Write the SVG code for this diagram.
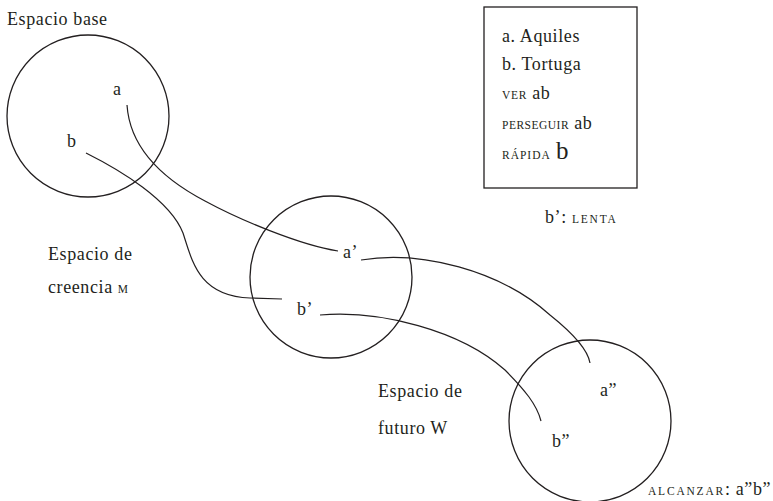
<svg xmlns="http://www.w3.org/2000/svg" width="773" height="501" viewBox="0 0 773 501">
<style>
  text { font-family: "Liberation Serif", "DejaVu Serif", serif; font-size: 18px; fill: #231f20; letter-spacing: 0.6px; }
  .sc { font-size: 11.5px; letter-spacing: 1px; }
  .space { fill: none; stroke: #231f20; stroke-width: 1.3; }
  .conn { fill: none; stroke: #231f20; stroke-width: 1.2; }
  .box { fill: #ffffff; stroke: #231f20; stroke-width: 1.3; }
</style>
<rect width="773" height="501" fill="#ffffff"/>

<g id="espacio-base">
  <circle class="space" cx="88" cy="116" r="81"/>
  <text x="7" y="25">Espacio base</text>
  <text x="113" y="95">a</text>
  <text x="67" y="147">b</text>
</g>

<g id="espacio-creencia">
  <circle class="space" cx="331" cy="277" r="81"/>
  <text x="48" y="260">Espacio de</text>
  <text x="48" y="293">creencia <tspan class="sc">M</tspan></text>
  <text x="343" y="258">a’</text>
  <text x="297" y="315">b’</text>
</g>

<g id="espacio-futuro">
  <circle class="space" cx="590" cy="421" r="81"/>
  <text x="378" y="397">Espacio de</text>
  <text x="378" y="434">futuro W</text>
  <text x="600" y="396">a”</text>
  <text x="552" y="447">b”</text>
  <text x="648" y="495"><tspan class="sc" style="letter-spacing:1.8px">ALCANZAR</tspan>: a”b”</text>
</g>

<g id="leyenda">
  <rect class="box" x="484" y="7" width="153" height="181"/>
  <text x="502" y="42">a. Aquiles</text>
  <text x="502" y="70">b. Tortuga</text>
  <text x="502" y="99"><tspan class="sc" style="letter-spacing:0.7px">VER</tspan> ab</text>
  <text x="502" y="129"><tspan class="sc" style="letter-spacing:0.5px">PERSEGUIR</tspan> ab</text>
  <text x="502" y="159"><tspan class="sc">RÁPIDA</tspan> <tspan style="font-size:25px">b</tspan></text>
</g>

<g id="nota-lenta">
  <text x="545" y="223">b’: <tspan class="sc" style="letter-spacing:1.8px">LENTA</tspan></text>
</g>

<g id="conectores">
  <path class="conn" d="M127,105 C130,150 165,180 205,201 C240,220 300,245 338,251"/>
  <path class="conn" d="M86,153 C120,170 170,200 183,233 C192,260 198,296 250,298 L282,299"/>
  <path class="conn" d="M361,260 C420,250 500,270 550,315 C575,335 588,350 590,363"/>
  <path class="conn" d="M320,315 C380,310 460,330 505,370 C525,390 537,405 541,421"/>
</g>
</svg>
